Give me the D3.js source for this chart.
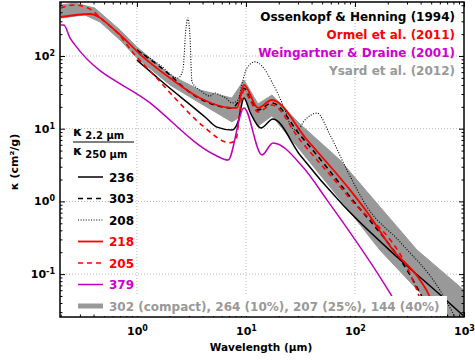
<!DOCTYPE html>
<html>
<head>
<meta charset="utf-8">
<script src="https://cdn.jsdelivr.net/npm/d3@7"></script>
<style>
  body { margin: 0; background: #fff; }
  svg { display: block; font-family: "DejaVu Sans", sans-serif; font-weight: bold; }
</style>
</head>
<body>
<div id="chart"></div>
<script>
// opacity curves, [wavelength (um), kappa (cm2/g)]
const ossenkopf236 = [[1, 88], [1.63, 46.8], [4.21, 14.5], [5.42, 10.5], [7.44, 9.6], [8.45, 12.4], [9.59, 26.4], [10.9, 17.0], [13.7, 10.2], [17.7, 13.6], [31.3, 4.35], [77.6, 0.89], [243, 0.172], [641, 0.048], [980, 0.027]];
const ossenkopf303 = [[1, 121], [1.63, 71], [3.55, 27.3], [7.44, 19.3], [8.45, 23.3], [9.59, 36], [10.9, 26.4], [12.9, 18.1], [17.3, 22.6], [31.3, 8.2], [84.5, 1.31], [395, 0.055], [508, 0.0257]];
const ossenkopf208 = [[1, 121], [1.63, 75], [2.38, 49.8], [2.64, 64], [2.82, 243], [2.94, 333], [3.06, 194], [3.2, 44], [3.78, 34], [4.67, 28.2], [5.2, 31], [5.77, 29], [6.55, 26.4], [7.44, 22.6], [8.45, 24.8], [9.38, 46.8], [10.2, 68], [12.1, 83], [14.0, 73], [17.3, 44], [22.8, 18.1], [26.4, 10.2], [29.4, 9.6], [34.8, 13.2], [44.8, 16.4], [59, 8.2], [84.5, 2.7], [129, 0.84], [259, 0.277], [602, 0.06], [827, 0.0257]];
const ormel218 = [[0.2, 344], [0.37, 378], [0.67, 207], [1.09, 103], [2.01, 49.8], [3.78, 26.4], [7.44, 19.3], [8.27, 19.3], [9.59, 40], [12.9, 19.3], [17.3, 24.8], [36.3, 7.0], [90, 1.44], [129, 0.715], [223, 0.215], [395, 0.083], [488, 0.048], [565, 0.0257]];
const ormel205 = [[0.2, 457], [0.27, 503], [0.37, 443], [0.508, 294], [0.628, 228], [0.96, 103], [1.46, 53], [2.23, 26.4], [4.03, 10.9], [7.13, 6.4], [8.1, 7.0], [8.81, 18.1], [9.59, 34], [10.9, 24.8], [12.9, 17.0], [17.3, 21.2], [31.3, 7.0], [84.5, 1.22], [378, 0.055], [438, 0.0257]];
const weingartner379 = [[0.2, 267], [0.214, 267], [0.243, 177], [0.27, 142], [1.32, 22.6], [5.2, 4.35], [6.84, 3.7], [9.59, 19.3], [14.0, 4.35], [17.7, 6.36], [33.3, 2.97], [55.3, 1.05], [209, 0.055], [276, 0.027]];
// Ysard et al. (2012): envelope of the four porosity models
const ysardUpper = [[0.2, 503], [0.27, 535], [0.41, 457], [0.7, 228], [1, 133], [2.01, 55], [3.78, 34], [7.44, 26.4], [9.59, 46.8], [12.9, 21.9], [17.3, 29], [31.3, 11.6], [72.8, 3.71], [137, 1.22], [370, 0.215], [1000, 0.06]];
const ysardLower = [[0.2, 333], [0.333, 367], [0.458, 294], [0.7, 166], [1, 94], [2.01, 40], [3.78, 22.6], [7.44, 12.4], [8.45, 14.0], [9.59, 28.2], [12.9, 10.9], [17.3, 15.0], [31.3, 5.1], [77.6, 0.95], [169, 0.215], [641, 0.0257], [1000, 0.0124]];

const refNames = ["Ossenkopf & Henning (1994)", "Ormel et al. (2011)", "Weingartner & Draine (2001)", "Ysard et al. (2012)"];
const refColors = ["#000000", "#ff0000", "#d000d0", "#999999"];
const ratioLabels = ["236", "303", "208", "218", "205", "379", "302 (compact), 264 (10%), 207 (25%), 144 (40%)"];
const xMajor = [1, 10, 100, 1000];
const yMajor = [0.1, 1, 10, 100];

const width = 475, height = 362;
const x = d3.scaleLog().domain([0.197, 1000]).range([60, 464]);
const y = d3.scaleLog().domain([0.0257, 553]).range([317, 2]);

const xMinor = [];
[0.1, 1, 10, 100].forEach(b => { for (let k = 2; k <= 9; k++) if (b * k > 0.197) xMinor.push(b * k); });
const yMinor = [];
[0.01, 0.1, 1, 10, 100].forEach(b => { for (let k = 2; k <= 9; k++) if (b * k > 0.0257 && b * k < 553) yMinor.push(b * k); });

const svg = d3.select("#chart").append("svg")
  .attr("width", width).attr("height", height);

svg.append("clipPath").attr("id", "plot")
  .append("rect").attr("x", 60).attr("y", 2).attr("width", 404).attr("height", 315);

// grid
const grid = svg.append("g").attr("stroke", "#b8b8b8").attr("stroke-dasharray", "1,2").attr("stroke-width", 1);
grid.selectAll(".gx").data(xMajor.slice(0, 3)).join("line")
  .attr("x1", d => x(d)).attr("x2", d => x(d)).attr("y1", 2).attr("y2", 317);
grid.selectAll(".gy").data(yMajor).join("line")
  .attr("y1", d => y(d)).attr("y2", d => y(d)).attr("x1", 60).attr("x2", 464);

const line = d3.line().x(d => x(d[0])).y(d => y(d[1]));
const smooth = d3.line().x(d => x(d[0])).y(d => y(d[1])).curve(d3.curveMonotoneX);
const plot = svg.append("g").attr("clip-path", "url(#plot)");

// gray band
plot.append("path")
  .attr("d", line(ysardUpper.concat(ysardLower.slice().reverse())) + "Z")
  .attr("fill", "#999").attr("stroke", "#999").attr("stroke-width", 1);

const curves = [
  { data: ossenkopf236, color: "#000", dash: null, w: 1.5 },
  { data: ossenkopf303, color: "#000", dash: "5,4", w: 1.6 },
  { data: ossenkopf208, color: "#000", dash: "1,1.6", w: 1.1 },
  { data: ormel218, color: "#ff0000", dash: null, w: 1.8 },
  { data: ormel205, color: "#ff0000", dash: "5,4", w: 1.6 },
  { data: weingartner379, color: "#bf00bf", dash: null, w: 1.5 }
];

plot.selectAll(".curve").data(curves).join("path")
  .attr("d", d => smooth(d.data))
  .attr("fill", "none")
  .attr("stroke", d => d.color)
  .attr("stroke-width", d => d.w)
  .attr("stroke-dasharray", d => d.dash);

// axes
function powLabel(sel) {
  sel.each(function(d) {
    const t = d3.select(this).text(null);
    t.append("tspan").text("10");
    t.append("tspan").attr("dy", "-0.5em").attr("font-size", "8px").text(Math.round(Math.log10(d)));
  });
}

function addAxis(axis, tr, labels) {
  const g = svg.append("g").attr("transform", tr).call(axis);
  g.select(".domain").remove();
  g.selectAll(".tick line").attr("stroke", "#000").attr("stroke-width", 1);
  if (labels) {
    g.selectAll(".tick text").attr("font-size", "11px").attr("font-family", "DejaVu Sans")
      .attr("font-weight", "bold").attr("fill", "#000").call(powLabel);
  }
  return g;
}

addAxis(d3.axisBottom(x).tickValues(xMajor).tickSize(-5).tickPadding(10), "translate(0,317)", true);
addAxis(d3.axisBottom(x).tickValues(xMinor).tickSize(-2.5).tickFormat(""), "translate(0,317)", false);
addAxis(d3.axisTop(x).tickValues(xMajor).tickSize(-5).tickFormat(""), "translate(0,2)", false);
addAxis(d3.axisTop(x).tickValues(xMinor).tickSize(-2.5).tickFormat(""), "translate(0,2)", false);
addAxis(d3.axisLeft(y).tickValues(yMajor).tickSize(-5).tickPadding(5), "translate(60,0)", true);
addAxis(d3.axisLeft(y).tickValues(yMinor).tickSize(-2.5).tickFormat(""), "translate(60,0)", false);
addAxis(d3.axisRight(y).tickValues(yMajor).tickSize(-5).tickFormat(""), "translate(464,0)", false);
addAxis(d3.axisRight(y).tickValues(yMinor).tickSize(-2.5).tickFormat(""), "translate(464,0)", false);

svg.append("rect").attr("x", 60).attr("y", 2).attr("width", 404).attr("height", 315)
  .attr("fill", "none").attr("stroke", "#000").attr("stroke-width", 1.5);

// axis titles
svg.append("text").attr("x", 261).attr("y", 351).attr("text-anchor", "middle")
  .attr("font-size", "10.5px").text("Wavelength (\u00b5m)");
svg.append("text").attr("transform", "translate(18,162) rotate(-90)").attr("text-anchor", "middle")
  .attr("font-size", "11px").text("\u03ba (cm\u00b2/g)");

// reference legend (top right)
svg.append("g").selectAll("text").data(refNames).join("text")
  .attr("x", 455).attr("y", (d, i) => 21 + i * 18)
  .attr("text-anchor", "end").attr("font-size", "12px")
  .attr("fill", (d, i) => refColors[i]).text(d => d);

// ratio legend (left)
const frac = svg.append("g").attr("font-size", "12px");
const num = frac.append("text").attr("x", 73).attr("y", 136);
num.append("tspan").attr("font-size", "13px").text("\u03ba");
num.append("tspan").attr("dx", 3).attr("dy", 3).attr("font-size", "10px").text("2.2 \u00b5m");
frac.append("line").attr("x1", 73).attr("x2", 134).attr("y1", 142).attr("y2", 142)
  .attr("stroke", "#000").attr("stroke-width", 1.2);
const den = frac.append("text").attr("x", 73).attr("y", 155);
den.append("tspan").attr("font-size", "13px").text("\u03ba");
den.append("tspan").attr("dx", 3).attr("dy", 3).attr("font-size", "10px").text("250 \u00b5m");

const legendStyles = [
  { color: "#000", dash: null, w: 1.5, text: "#000" },
  { color: "#000", dash: "5,4", w: 1.6, text: "#000" },
  { color: "#000", dash: "1,1.6", w: 1.1, text: "#000" },
  { color: "#ff0000", dash: null, w: 1.8, text: "#ff0000" },
  { color: "#ff0000", dash: "5,4", w: 1.6, text: "#ff0000" },
  { color: "#bf00bf", dash: null, w: 1.5, text: "#d000d0" },
  { color: "#999", dash: null, w: 5, text: "#999" }
];
const ly = i => 177 + i * 21.5;

svg.append("rect").attr("x", 104).attr("y", 296).attr("width", 343).attr("height", 20)
  .attr("fill", "#fff");

const leg = svg.append("g").selectAll("g").data(ratioLabels).join("g");
leg.append("line")
  .attr("x1", 78).attr("x2", 103).attr("y1", (d, i) => ly(i)).attr("y2", (d, i) => ly(i))
  .attr("stroke", (d, i) => legendStyles[i].color)
  .attr("stroke-width", (d, i) => legendStyles[i].w)
  .attr("stroke-dasharray", (d, i) => legendStyles[i].dash);
leg.append("text")
  .attr("x", 109).attr("y", (d, i) => ly(i) + 4.5)
  .attr("font-size", "12px")
  .attr("fill", (d, i) => legendStyles[i].text)
  .text(d => d);
</script>
</body>
</html>
